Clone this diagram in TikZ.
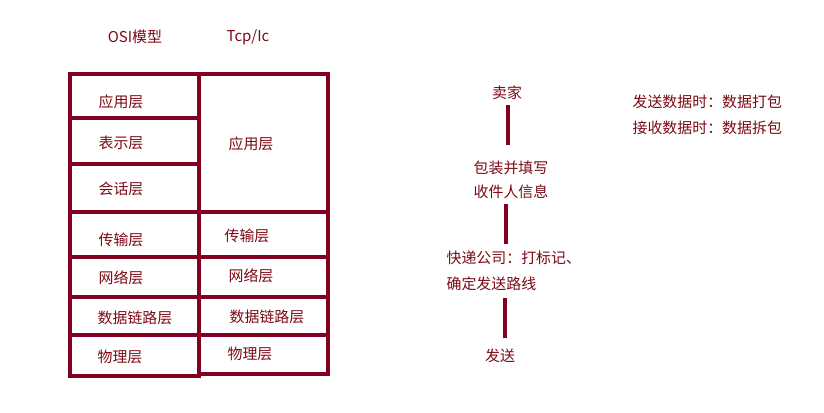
\documentclass[tikz,border=0pt]{standalone}
\usepackage{fontspec}
\setmainfont{Noto Sans CJK SC}
\definecolor{mar}{HTML}{820020}
\definecolor{txt}{HTML}{7A0A14}
\begin{document}
\begin{tikzpicture}[x=0.75pt,y=-0.75pt,
  lbl/.style={text=txt,font=\fontsize{11.2pt}{13pt}\selectfont,inner sep=1pt},
  grid/.style={draw=mar,line width=2.6pt,line cap=rect},
  flow/.style={draw=mar,line width=2.6pt}]
\useasboundingbox (0,0) rectangle (824,412);
% table
\draw[grid] (70,74) -- (328,74);
\draw[grid] (70,74) -- (70,376) -- (199,376);
\draw[grid] (199,74) -- (199,376);
\draw[grid] (328,74) -- (328,374) -- (199,374);
\draw[grid] (70,118) -- (199,118);
\draw[grid] (70,164) -- (199,164);
\draw[grid] (70,212) -- (328,212);
\draw[grid] (70,257) -- (328,257);
\draw[grid] (70,297) -- (328,297);
\draw[grid] (70,335) -- (328,335);
% headers
\node[lbl] (h1) at (135,37) {OSI模型};
\node[lbl] (h2) at (248,37) {Tcp/Ic};
% left column
\node[lbl] (l1) at (121,102) {应用层};
\node[lbl] (l2) at (121,143) {表示层};
\node[lbl] (l3) at (121,189) {会话层};
\node[lbl] (l4) at (121,240) {传输层};
\node[lbl] (l5) at (121,278) {网络层};
\node[lbl] (l6) at (135,318) {数据链路层};
\node[lbl] (l7) at (120,357) {物理层};
% right column
\node[lbl] (r1) at (251,144) {应用层};
\node[lbl] (r4) at (247,236) {传输层};
\node[lbl] (r5) at (251,276) {网络层};
\node[lbl] (r6) at (267,317) {数据链路层};
\node[lbl] (r7) at (250,354) {物理层};
% flow
\node[lbl] (f1) at (507,93) {卖家};
\node[lbl,align=center,font=\fontsize{11.2pt}{18pt}\selectfont] (f2) at (511,180) {包装并填写\\收件人信息};
\node[lbl,align=left,anchor=west,font=\fontsize{11.2pt}{19.5pt}\selectfont] (f3) at (445,271) {快递公司：打标记、\\确定发送路线};
\node[lbl] (f4) at (500,356) {发送};
\coordinate (c1a) at (508,105); \coordinate (c1b) at (508,145);
\coordinate (c2a) at (506,204); \coordinate (c2b) at (506,244);
\coordinate (c3a) at (505,298); \coordinate (c3b) at (505,338);
\draw[flow] (c1a) -- (c1b);
\draw[flow] (c2a) -- (c2b);
\draw[flow] (c3a) -- (c3b);
% notes
\node[lbl,align=left,anchor=west,font=\fontsize{11.2pt}{19.5pt}\selectfont] (n1) at (631,115) {发送数据时：数据打包\\接收数据时：数据拆包};
\end{tikzpicture}
\end{document}
